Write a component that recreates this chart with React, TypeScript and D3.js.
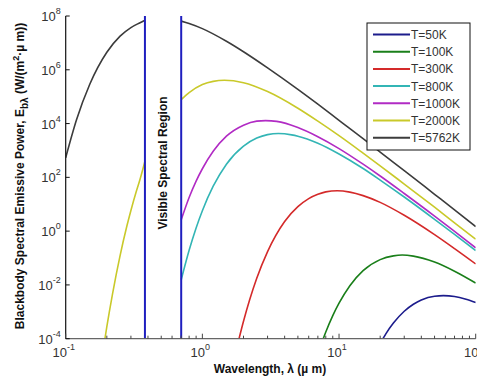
import * as d3 from 'd3';

// wavelengths (µm) and log10 of emissive power
const wl50 = [21, 22, 25, 30, 35, 40, 50, 58, 70, 85, 100];
const e50 = [-3.99, -3.82, -3.42, -2.98, -2.72, -2.56, -2.42, -2.4, -2.43, -2.53, -2.65];

const wl100 = [7.6, 8, 9, 10, 12, 15, 20, 25, 29, 35, 50, 70, 100];
const e100 = [-4.05, -3.75, -3.14, -2.68, -2.03, -1.47, -1.06, -0.92, -0.89, -0.93, -1.15, -1.49, -1.93];

const wl300 = [1.85, 2, 2.5, 3, 4, 5, 6, 7, 8, 9.7, 12, 15, 20, 30, 50, 70, 100];
const e300 = [-4.02, -3.35, -1.75, -0.76, 0.36, 0.91, 1.21, 1.37, 1.46, 1.5, 1.45, 1.32, 1.07, 0.59, -0.13, -0.65, -1.22];

const wl800 = [0.7, 0.8, 0.9, 1, 1.2, 1.5, 2, 2.5, 3, 3.6, 4.5, 5, 7, 10, 15, 20, 30, 50, 70, 100];
const e800 = [-1.81, -0.71, 0.12, 0.76, 1.67, 2.49, 3.16, 3.46, 3.59, 3.63, 3.58, 3.53, 3.27, 2.87, 2.33, 1.9, 1.27, 0.44, -0.12, -0.72];

const wl1000 = [0.7, 0.8, 0.9, 1, 1.2, 1.5, 2, 2.5, 2.9, 3.5, 5, 7, 10, 15, 20, 30, 50, 70, 100];
const e1000 = [0.42, 1.25, 1.86, 2.32, 2.97, 3.53, 3.94, 4.09, 4.11, 4.08, 3.85, 3.51, 3.07, 2.49, 2.05, 1.4, 0.56, -0.01, -0.62];

const wl2000a = [0.19, 0.2, 0.22, 0.25, 0.28, 0.3, 0.33, 0.35, 0.38];
const e2000a = [-4.27, -3.55, -2.34, -0.91, 0.18, 0.77, 1.51, 1.93, 2.6];
const wl2000b = [0.7, 0.8, 1, 1.2, 1.45, 2, 3, 5, 7, 10, 15, 20, 30, 50, 70, 100];
const e2000b = [4.89, 5.15, 5.45, 5.57, 5.61, 5.52, 5.19, 4.57, 4.09, 3.55, 2.9, 2.43, 1.75, 0.89, 0.31, -0.3];

const wl5762a = [0.1, 0.12, 0.15, 0.2, 0.25, 0.3, 0.35, 0.38];
const e5762a = [2.73, 4.14, 5.46, 6.65, 7.25, 7.57, 7.75, 7.84];
const wl5762b = [0.7, 0.8, 1, 1.5, 2, 3, 5, 7, 10, 15, 20, 30, 50, 70, 100];
const e5762b = [7.81, 7.72, 7.53, 7.06, 6.67, 6.07, 5.27, 4.72, 4.12, 3.44, 2.94, 2.25, 1.37, 0.79, 0.17];

const labels = ['T=50K', 'T=100K', 'T=300K', 'T=800K', 'T=1000K', 'T=2000K', 'T=5762K'];
const colors = ['#1c1c8c', '#1a7f1a', '#d42a2a', '#33b5b5', '#b12bc4', '#c9c92a', '#3c3c3c'];
const segments = [
  [[wl50, e50]],
  [[wl100, e100]],
  [[wl300, e300]],
  [[wl800, e800]],
  [[wl1000, e1000]],
  [[wl2000a, e2000a], [wl2000b, e2000b]],
  [[wl5762a, e5762a], [wl5762b, e5762b]],
];

const visibleBand = [0.38, 0.7];
const yTickExp = [8, 6, 4, 2, 0, -2, -4];
const xTickExp = [-1, 0, 1, 2];

const W = 477;
const H = 379;
const left = 65.7;
const top = 16;
const right = 475.7;
const bottom = 338.7;

export default function App() {
  const x = d3.scaleLog().domain([0.1, 100]).range([left, right]);
  const y = d3.scaleLog().domain([1e-4, 1e8]).range([bottom, top]);

  const line = d3
    .line<[number, number]>()
    .x((d) => x(d[0]))
    .y((d) => y(Math.pow(10, d[1])))
    .curve(d3.curveMonotoneX);

  const font = 'Arial, "Liberation Sans", sans-serif';
  const minor = x.ticks();

  return (
    <svg
      width={W}
      height={H}
      style={{ position: 'absolute', left: 0, top: 0, background: '#fff' }}
      fontFamily={font}
    >
      <defs>
        <clipPath id="plot">
          <rect x={left} y={top} width={right - left} height={bottom - top} />
        </clipPath>
      </defs>

      {/* curves */}
      <g clipPath="url(#plot)" fill="none">
        {segments.map((segs, i) =>
          segs.map(([wl, e], j) => (
            <path
              key={`${i}-${j}`}
              d={line(wl.map((w, k) => [w, e[k]] as [number, number])) ?? ''}
              stroke={colors[i]}
              strokeWidth={1.6}
            />
          )),
        )}
      </g>

      {/* visible band limits */}
      {visibleBand.map((v) => (
        <line key={v} x1={x(v)} x2={x(v)} y1={top} y2={bottom} stroke="#1f1fbf" strokeWidth={2} />
      ))}
      <text
        transform={`translate(${(x(visibleBand[0]) + x(visibleBand[1])) / 2 + 4},163) rotate(-90)`}
        textAnchor="middle"
        fontSize={12}
        fontWeight="bold"
        fill="#111"
      >
        Visible Spectral Region
      </text>

      {/* axes */}
      <line x1={left} x2={right} y1={bottom} y2={bottom} stroke="#666" strokeWidth={1.2} />
      <line x1={left} x2={left} y1={top} y2={bottom} stroke="#111" strokeWidth={1.2} />
      {minor.map((t) => {
        const major = Math.abs(Math.log10(t) - Math.round(Math.log10(t))) < 1e-6;
        return (
          <line
            key={t}
            x1={x(t)}
            x2={x(t)}
            y1={bottom}
            y2={bottom - (major ? 5 : 3)}
            stroke="#444"
          />
        );
      })}
      {yTickExp.map((p) => (
        <g key={p}>
          <line x1={left} x2={left + 4} y1={y(Math.pow(10, p))} y2={y(Math.pow(10, p))} stroke="#111" />
          <text x={left - 5} y={y(Math.pow(10, p)) + 5} textAnchor="end" fontSize={13} fill="#333">
            10
            <tspan fontSize={9} dy={-7}>
              {p}
            </tspan>
          </text>
        </g>
      ))}
      {xTickExp.map((p) => (
        <text key={p} x={x(Math.pow(10, p)) - 2} y={357} textAnchor="middle" fontSize={13} fill="#333">
          10
          <tspan fontSize={9} dy={-7}>
            {p}
          </tspan>
        </text>
      ))}

      {/* axis titles */}
      <text x={270} y={373} textAnchor="middle" fontSize={12} fontWeight="bold" fill="#111">
        Wavelength, λ (µ m)
      </text>
      <text
        transform="translate(24,176) rotate(-90)"
        textAnchor="middle"
        fontSize={12}
        fontWeight="bold"
        fill="#111"
      >
        Blackbody Spectral Emissive Power, E
        <tspan fontSize={10} dy={4}>
          bλ
        </tspan>
        <tspan dy={-4}>{'  (W/(m'}</tspan>
        <tspan fontSize={9} dy={-5}>
          2
        </tspan>
        <tspan dy={5}>·µ m))</tspan>
      </text>

      {/* legend */}
      <rect x={367} y={23} width={103} height={127} fill="#fff" stroke="#111" />
      {labels.map((l, i) => (
        <g key={l}>
          <line x1={373} x2={410} y1={34.5 + i * 17.2} y2={34.5 + i * 17.2} stroke={colors[i]} strokeWidth={2} />
          <text x={411} y={34.5 + i * 17.2 + 4.5} fontSize={12} fill="#333">
            {l}
          </text>
        </g>
      ))}
    </svg>
  );
}
